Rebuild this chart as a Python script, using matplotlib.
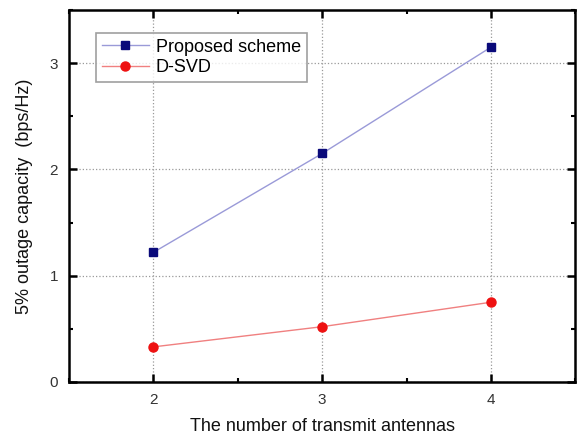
import matplotlib
matplotlib.use("Agg")
import matplotlib.pyplot as plt
from matplotlib.ticker import MultipleLocator

plt.rcParams['font.family'] = ['Liberation Sans', 'DejaVu Sans']

antennas = [2, 3, 4]
proposed = [1.22, 2.15, 3.15]
dsvd = [0.33, 0.52, 0.75]
x_ticks = [2, 3, 4]
y_ticks = [0, 1, 2, 3]

fig = plt.figure(figsize=(5.81, 4.37), dpi=100)
ax = fig.add_axes([0.119, 0.126, 0.871, 0.851])

ax.plot(antennas, proposed, color='#9a9ad8', lw=1.0, marker='s', ms=6,
        mfc='#0a0a7a', mec='#0a0a7a', label='Proposed scheme')
ax.plot(antennas, dsvd, color='#f08080', lw=1.0, marker='o', ms=6.5,
        mfc='#ee1111', mec='#ee1111', label='D-SVD')

ax.set_xlim(1.5, 4.5)
ax.set_ylim(0, 3.5)
ax.set_xticks(x_ticks)
ax.set_yticks(y_ticks)
ax.xaxis.set_minor_locator(MultipleLocator(0.5))
ax.yaxis.set_minor_locator(MultipleLocator(0.5))
ax.tick_params(which='major', direction='in', length=6, width=1.8,
               top=True, right=True, labelsize=11, labelcolor='#333333', pad=8)
ax.tick_params(which='minor', direction='in', length=3, width=1.5,
               top=True, right=True)
ax.grid(True, which='major', ls=':', color='#999999', lw=0.9)
for s in ax.spines.values():
    s.set_linewidth(1.8)

ax.set_xlabel('The number of transmit antennas', fontsize=13, labelpad=8, color='#111111')
ax.set_ylabel('5% outage capacity  (bps/Hz)', fontsize=13, labelpad=12, color='#111111')

leg = ax.legend(loc='upper left', bbox_to_anchor=(0.036, 0.962), fontsize=13,
                frameon=True, fancybox=False, edgecolor='#888888',
                handlelength=2.6, borderpad=0.3, labelspacing=0.2,
                handletextpad=0.4)
leg.get_frame().set_linewidth(1.2)

fig.savefig('out.png', dpi=100)
